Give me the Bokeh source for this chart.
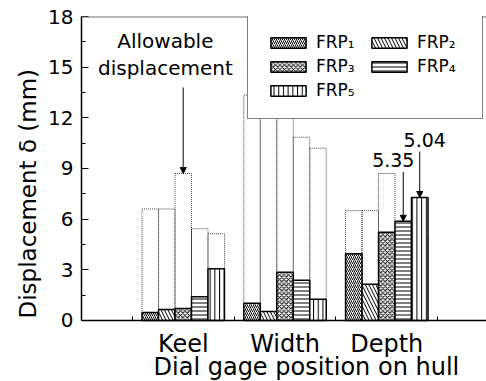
from bokeh.plotting import figure
from bokeh.models import (Range1d, FixedTicker, Legend, LegendItem, Arrow, NormalHead,
                          Label, Span, Title, ColumnDataSource)
from bokeh.transform import dodge
from bokeh.embed import file_html
from bokeh.resources import INLINE

# Dial gage positions on the hull and the five FRP boats
positions = ["Keel", "Width", "Depth"]
series = ["FRP₁", "FRP₂", "FRP₃", "FRP₄", "FRP₅"]

# Measured displacement (mm) at Keel, Width, Depth
frp1 = [0.46, 1.01, 3.94]
frp2 = [0.65, 0.53, 2.14]
frp3 = [0.71, 2.85, 5.22]
frp4 = [1.40, 2.37, 5.87]
frp5 = [3.06, 1.25, 7.28]

# Allowable displacement (mm) at Keel, Width, Depth
allow1 = [6.6, 13.35, 6.5]
allow2 = [6.6, 13.35, 6.5]
allow3 = [8.7, 17.5, 8.7]
allow4 = [5.43, 10.85, 5.35]
allow5 = [5.13, 10.2, 5.04]

measured = [frp1, frp2, frp3, frp4, frp5]
allowable = [allow1, allow2, allow3, allow4, allow5]

FONT = "DejaVu Sans"
BAR_W = 0.162
offsets = [(i - 2) * BAR_W for i in range(5)]
hatches = [
    dict(hatch_pattern="right_diagonal_line", hatch_scale=4),
    dict(hatch_pattern="left_diagonal_line", hatch_scale=7),
    dict(hatch_pattern="diagonal_cross", hatch_scale=4.5),
    dict(hatch_pattern="horizontal_line", hatch_scale=4),
    dict(hatch_pattern="vertical_line", hatch_scale=4.7),
]

data = {"pos": [i + 1 for i in range(len(positions))]}
for k in range(5):
    data[f"m{k}"] = measured[k]
    data[f"a{k}"] = allowable[k]
source = ColumnDataSource(data)

# the frame runs to the bottom edge; the x axis sits at y = 0 with its labels below it
Y_MIN = -3.62
p = figure(width=486, height=381, x_range=Range1d(0, 3.98), y_range=Range1d(Y_MIN, 18),
           output_backend="svg", toolbar_location=None,
           min_border_left=81, min_border_right=0, min_border_top=16, min_border_bottom=0)
p.outline_line_color = None
p.xgrid.visible = False
p.ygrid.visible = False
p.background_fill_color = "white"
p.border_fill_color = "white"

# allowable displacement outlines behind the bars
for k in range(5):
    p.vbar(x=dodge("pos", offsets[k], range=p.x_range), top=f"a{k}", width=BAR_W, source=source,
           fill_color=None, line_color="#444444", line_width=1, line_dash="1 1")

bar_renderers = []
for k in range(5):
    r = p.vbar(x=dodge("pos", offsets[k], range=p.x_range), top=f"m{k}", width=BAR_W, source=source,
               fill_color="white", line_color="black", line_width=1.5,
               hatch_color="black", hatch_weight=1, **hatches[k])
    bar_renderers.append(r)

# top frame line
p.add_layout(Span(location=18, dimension="width", line_color="#707070", line_width=2))

# axes
xa = p.xaxis[0]
xa.fixed_location = 0
xa.ticker = FixedTicker(ticks=[1, 2, 3], minor_ticks=[0.5, 1.5, 2.5, 3.5])
xa.major_label_overrides = {1: "Keel", 2: "Width", 3: "Depth"}
xa.major_tick_line_color = None
xa.major_tick_in = 0
xa.major_tick_out = 0
xa.minor_tick_in = 4
xa.minor_tick_out = 0
xa.minor_tick_line_color = "black"
xa.axis_line_width = 1.5
xa.major_label_text_font = FONT
xa.major_label_text_font_size = "24px"
xa.major_label_text_color = "black"
xa.major_label_standoff = 10

ya = p.yaxis[0]
ya.bounds = (0, 18)
ya.ticker = FixedTicker(ticks=[0, 3, 6, 9, 12, 15, 18],
                        minor_ticks=[1.5, 4.5, 7.5, 10.5, 13.5, 16.5])
ya.major_tick_in = 7
ya.major_tick_out = 0
ya.minor_tick_in = 4
ya.minor_tick_out = 0
ya.major_tick_line_color = "black"
ya.minor_tick_line_color = "black"
ya.axis_line_width = 1.5
ya.major_label_text_font = FONT
ya.major_label_text_font_size = "20px"
ya.major_label_text_color = "black"
ya.major_label_standoff = 8

# axis titles
p.add_layout(Label(x=2.21, y=-2.79, text="Dial gage position on hull", text_align="center",
                   text_baseline="alphabetic", text_font=FONT, text_font_size="24px",
                   text_color="black"))
p.add_layout(Title(text="Displacement δ (mm)", align="left", offset=63,
                   standoff=9, text_font=FONT, text_font_size="23px",
                   text_font_style="normal", text_color="black"), "left")

# legend
items = [LegendItem(label=series[k], renderers=[bar_renderers[k]]) for k in range(5)]
legend = Legend(items=items, ncols=2, orientation="horizontal", location=(166, 262),
                glyph_width=44, glyph_height=13, label_standoff=6, label_width=47,
                label_height=18, spacing=4, padding=18, margin=0,
                border_line_color="black", border_line_width=1.5,
                background_fill_color="white", background_fill_alpha=1)
legend.label_text_font = FONT
legend.label_text_font_size = "17px"
legend.label_text_color = "black"
p.add_layout(legend, "center")

# "Allowable displacement" callout pointing at the Keel FRP3 outline
kx = 1 + offsets[2]
p.add_layout(Label(x=kx - 0.176, y=15.85, text="Allowable", text_align="center",
                   text_font=FONT, text_font_size="20px", text_color="black"))
p.add_layout(Label(x=kx - 0.176, y=14.24, text="displacement", text_align="center",
                   text_font=FONT, text_font_size="20px", text_color="black"))
p.add_layout(Arrow(x_start=kx, y_start=allow3[0] + 5.1, x_end=kx, y_end=allow3[0],
                   line_color="#555555", line_width=1.5,
                   end=NormalHead(size=6, fill_color="black", line_color="black")))

# allowable values hidden behind the Depth FRP4 / FRP5 bars
for k, dx, dy in [(3, -0.098, 3.2), (4, 0.049, 3.0)]:
    bx = 3 + offsets[k]
    top = measured[k][2]
    p.add_layout(Label(x=bx + dx, y=top + dy, text=f"{allowable[k][2]:.2f}", text_align="center",
                       text_font=FONT, text_font_size="19px", text_color="black"))
    p.add_layout(Arrow(x_start=bx, y_start=top + dy - 0.28, x_end=bx, y_end=top,
                       line_color="black", line_width=1,
                       end=NormalHead(size=6, fill_color="black", line_color="black")))

open("out.html", "w").write(file_html(p, INLINE))
